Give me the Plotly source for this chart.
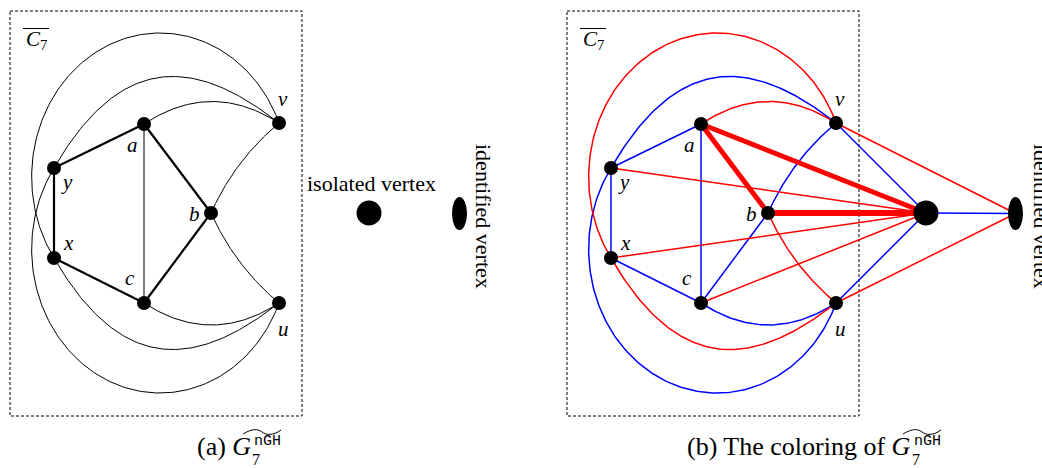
import numpy as np
import plotly.graph_objects as go

W, H = 1042, 468

# ---- vertices of the complement of C7 (panel a frame, pixels) ----
vert_names = ["a", "y", "x", "c", "b", "v", "u"]
vert_x = [144, 54, 54, 144, 211, 279, 279]
vert_y = [124, 168, 258, 303, 213, 123, 303]
label_dx = [-12, 13, 14, -14, -17, 4, 4]
label_dy = [21, 14, -15, -25, 1, -24, 26]
shift_b = 557  # horizontal offset of panel (b)

iso_vertex = (369, 213)
ident_a = (459.5, 213.5)
hub_b = (926, 213)
ident_b = (1015.5, 213.5)
ident_size = (15, 33)

# ---- edges inside C7-bar ----
edge_p = ["a", "y", "x", "c", "b", "a", "x", "y", "y", "x", "a", "c", "v", "b"]
edge_q = ["y", "x", "c", "b", "a", "c", "v", "u", "v", "u", "v", "u", "b", "u"]
edge_kind = ["line"] * 6 + ["ell"] * 2 + ["cub"] * 2 + ["quad"] * 4
edge_param = [None] * 6 + [(160, 33), (160, 393), (60, 142, 140, 100), (-60, -142, 140, 100),
                           22, -22, -6.5, -6.5]
edge_width_a = [2.2] * 5 + [1.0] * 9
edge_color_b = ["blue", "blue", "blue", "blue", "red", "blue", "red", "blue", "blue", "red",
                "red", "blue", "blue", "red"]
edge_width_b = [1.5, 1.5, 1.5, 1.5, 5.0, 1.5, 1.5, 1.5, 1.5, 1.5, 1.5, 1.5, 1.5, 1.5]

# ---- extra edges of the coloring (B = hub vertex, I = identified vertex) ----
hub_src = ["a", "b", "y", "x", "c", "v", "u", "v", "u", "B"]
hub_dst = ["B", "B", "B", "B", "B", "B", "B", "I", "I", "I"]
hub_color = ["red", "red", "red", "red", "red", "blue", "blue", "red", "red", "blue"]
hub_width = [5.0, 6.0, 1.5, 1.5, 1.5, 1.5, 1.5, 1.5, 1.5, 1.5]

COL = {"red": "#ff0000", "blue": "#0000ff", "black": "#000000"}


def ell_arc(P, Q, E, n=160):
    sgn = 1 if E[1] < min(P[1], Q[1]) else -1
    A, a = (P[0] - E[0]) ** 2, abs(P[1] - E[1])
    B, b = (Q[0] - E[0]) ** 2, abs(Q[1] - E[1])
    s = 2 * (b * A - a * B) / (b * b * A - a * a * B)
    u = (2 * b * s - b * b * s * s) / B
    rx, ry = 1 / np.sqrt(u), 1 / s
    cx, cy = E[0], E[1] + sgn * ry
    thE = np.arctan2(-sgn, 0.0)

    def ang(pt):
        t = np.arctan2((pt[1] - cy) / ry, (pt[0] - cx) / rx)
        return thE + (t - thE + np.pi) % (2 * np.pi) - np.pi

    t = np.linspace(ang(P), ang(Q), n)
    return list(cx + rx * np.cos(t)), list(cy + ry * np.sin(t))


def cubic(P, Q, prm, n=120):
    a0, a3, L1, L2 = prm
    P0 = np.array(P, float)
    P3 = np.array(Q, float)
    P1 = P0 + L1 * np.array([np.cos(np.radians(a0)), -np.sin(np.radians(a0))])
    P2 = P3 + L2 * np.array([np.cos(np.radians(a3)), -np.sin(np.radians(a3))])
    t = np.linspace(0, 1, n)[:, None]
    B = (1 - t) ** 3 * P0 + 3 * (1 - t) ** 2 * t * P1 + 3 * (1 - t) * t ** 2 * P2 + t ** 3 * P3
    return list(B[:, 0]), list(B[:, 1])


def quad(P, Q, bulge, n=100):
    P0 = np.array(P, float)
    P2 = np.array(Q, float)
    d = P2 - P0
    nrm = np.array([d[1], -d[0]]) / np.hypot(*d)
    C = (P0 + P2) / 2 + 2 * bulge * nrm
    t = np.linspace(0, 1, n)[:, None]
    Bz = (1 - t) ** 2 * P0 + 2 * (1 - t) * t * C + t ** 2 * P2
    return list(Bz[:, 0]), list(Bz[:, 1])


def edge_path(P, Q, kind, prm, dx):
    if kind == "line":
        return [P[0], Q[0]], [P[1], Q[1]]
    if kind == "ell":
        return ell_arc(P, Q, (prm[0] + dx, prm[1]))
    if kind == "cub":
        return cubic(P, Q, prm)
    return quad(P, Q, prm)


fig = go.Figure()
groups = {}


def add_seg(key, xs, ys):
    g = groups.setdefault(key, ([], []))
    g[0].extend(xs + [None])
    g[1].extend(ys + [None])


for panel, dx in (("a", 0), ("b", shift_b)):
    pos = {n: (x + dx, y) for n, x, y in zip(vert_names, vert_x, vert_y)}
    pos["B"] = hub_b
    pos["I"] = ident_b
    for i in range(len(edge_p)):
        xs, ys = edge_path(pos[edge_p[i]], pos[edge_q[i]], edge_kind[i], edge_param[i], dx)
        if panel == "a":
            key = ("black", edge_width_a[i])
        else:
            key = (edge_color_b[i], edge_width_b[i])
        add_seg(key, xs, ys)
    if panel == "b":
        for s, d, c, w in zip(hub_src, hub_dst, hub_color, hub_width):
            add_seg((c, w), [pos[s][0], pos[d][0]], [pos[s][1], pos[d][1]])

# thin first, thick last
for (c, w), (xs, ys) in sorted(groups.items(), key=lambda kv: kv[0][1]):
    fig.add_trace(go.Scatter(x=xs, y=ys, mode="lines", hoverinfo="skip",
                             line=dict(color=COL[c], width=w)))

# vertices
node_x = [x for x in vert_x] + [x + shift_b for x in vert_x]
node_y = vert_y + vert_y
fig.add_trace(go.Scatter(x=node_x, y=node_y, mode="markers", hoverinfo="skip",
                         marker=dict(size=14, color="black", line=dict(width=0))))
fig.add_trace(go.Scatter(x=[iso_vertex[0], hub_b[0]], y=[iso_vertex[1], hub_b[1]], mode="markers",
                         hoverinfo="skip", marker=dict(size=25, color="black", line=dict(width=0))))

shapes = []
for (cx, cy) in (ident_a, ident_b):
    shapes.append(dict(type="circle", xref="x", yref="y", x0=cx - ident_size[0] / 2,
                       x1=cx + ident_size[0] / 2, y0=cy - ident_size[1] / 2,
                       y1=cy + ident_size[1] / 2, fillcolor="black", line=dict(width=0)))
# dashed frames around C7-bar
for dx in (0, shift_b):
    shapes.append(dict(type="rect", xref="x", yref="y", x0=10 + dx, x1=302 + dx, y0=11, y1=416,
                       line=dict(color="black", width=1, dash="3px,2px"), layer="below"))
    shapes.append(dict(type="line", xref="x", yref="y", x0=23 + dx, x1=49 + dx, y0=28.5, y1=28.5,
                       line=dict(color="black", width=1)))

ann = []
SERIF = "Liberation Serif"
for dx in (0, shift_b):
    for n, x, y, lx, ly in zip(vert_names, vert_x, vert_y, label_dx, label_dy):
        ann.append(dict(x=x + dx + lx, y=y + ly, text=f"<i>{n}</i>", showarrow=False,
                        font=dict(family=SERIF, size=21, color="black")))
    ann.append(dict(x=36 + dx, y=40, text="<i>C</i><sub>7</sub>", showarrow=False,
                    font=dict(family=SERIF, size=21, color="black")))

ann.append(dict(x=371, y=183, text="isolated vertex", showarrow=False,
                font=dict(family=SERIF, size=22, color="black")))
for cx in (ident_a[0] + 24, ident_b[0] + 26):
    ann.append(dict(x=cx, y=216.5, text="identified vertex", showarrow=False, textangle=90,
                    font=dict(family=SERIF, size=22, color="black")))

# captions
captions = [("(a) ", 253), ("(b) The coloring of ", 913)]
for txt, gx in captions:
    ann.append(dict(x=gx, y=446, text=txt + "<i>G</i>", showarrow=False, xanchor="right",
                    font=dict(family=SERIF, size=26, color="black")))
    ann.append(dict(x=gx - 1, y=441, text="nGH", showarrow=False, xanchor="left",
                    font=dict(family="Liberation Mono", size=15, color="black")))
    ann.append(dict(x=gx - 3, y=459, text="7", showarrow=False, xanchor="left",
                    font=dict(family=SERIF, size=16, color="black")))
    x0, x1 = gx - 10, gx + 28
    xm = (x0 + x1) / 2
    shapes.append(dict(type="path", xref="x", yref="y",
                       path=f"M {x0} 434 C {x0 + 10} 428, {xm - 4} 429, {xm} 432 "
                            f"S {x1 - 8} 436, {x1} 430",
                       line=dict(color="black", width=1)))

fig.update_layout(
    width=W, height=H, margin=dict(l=0, r=0, t=0, b=0),
    paper_bgcolor="white", plot_bgcolor="white", showlegend=False,
    xaxis=dict(range=[0, W], visible=False, fixedrange=True),
    yaxis=dict(range=[H, 0], visible=False, fixedrange=True),
    shapes=shapes, annotations=ann,
)
fig.write_html("out.html", config={"displayModeBar": False},
               post_script="document.body.style.margin='0';"
                           "document.documentElement.style.overflow='hidden';")
